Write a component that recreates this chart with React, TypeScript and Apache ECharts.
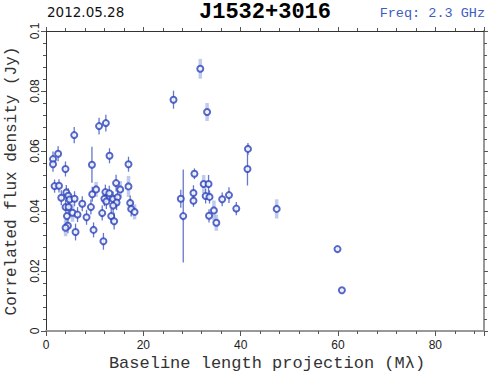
import React, { useEffect, useRef } from "react";
import * as echarts from "echarts";

// Baseline length projection (Mλ)
const baseline = [
  5.8, 1.44, 2.49, 1.44, 4.0, 1.76, 2.67, 9.44, 13.05, 16.95, 14.4, 16.95,
  3.14, 4.17, 4.58, 4.84, 5.87, 4.02, 4.64, 4.3, 5.46, 6.48, 4.5, 4.02, 6.07,
  7.45, 8.33, 9.23, 9.5, 10.3, 9.77, 11.8, 11.55, 12.2, 13.0, 12.0, 12.4, 13.8,
  14.7, 15.25, 14.5, 13.8, 13.4, 14.0, 17.3, 17.5, 18.2, 10.9, 12.3,
  26.2, 31.7, 33.1, 41.5, 41.4, 30.5, 32.4, 33.4, 27.7, 30.3, 30.3, 32.8, 33.6,
  36.2, 37.6, 28.2, 34.5, 33.5, 35.0, 39.1, 47.4, 59.9, 60.8,
];
// Correlated flux density (Jy)
const flux = [
  0.0653, 0.0573, 0.0591, 0.0556, 0.054, 0.0483, 0.0484, 0.0554, 0.0584, 0.0556, 0.0493, 0.0482,
  0.0444, 0.0462, 0.0451, 0.0438, 0.0441, 0.0413, 0.0413, 0.0383, 0.0394, 0.0388, 0.0351, 0.0344, 0.033,
  0.0424, 0.0379, 0.0413, 0.0456, 0.0472, 0.0337, 0.0299, 0.0393, 0.0463, 0.0459, 0.0441, 0.0432, 0.044,
  0.0446, 0.0472, 0.0428, 0.0418, 0.0383, 0.0366, 0.0427, 0.0407, 0.0397, 0.0683, 0.0693,
  0.0771, 0.0874, 0.073, 0.0607, 0.054, 0.0524, 0.049, 0.049, 0.0441, 0.046, 0.0434, 0.045, 0.0447,
  0.0439, 0.0453, 0.0383, 0.0402, 0.0384, 0.0361, 0.0408, 0.0407, 0.0273, 0.0136,
];
// 1-sigma uncertainty (Jy)
const fluxErr = [
  0.0027, 0.0025, 0.0025, 0.0025, 0.0025, 0.0022, 0.0022, 0.006, 0.0025, 0.0025, 0.0028, 0.0035,
  0.0025, 0.0025, 0.0025, 0.0025, 0.0025, 0.0025, 0.0025, 0.0028, 0.003, 0.0025, 0.0025, 0.0028, 0.0028,
  0.0025, 0.0025, 0.0025, 0.0025, 0.0025, 0.0025, 0.0028, 0.0025, 0.0025, 0.0025, 0.0025, 0.0025, 0.0025,
  0.0025, 0.0028, 0.0025, 0.0025, 0.0025, 0.0028, 0.0025, 0.0025, 0.0025, 0.0028, 0.0028,
  0.003, 0.0033, 0.003, 0.002, 0.0055, 0.0018, 0.003, 0.003, 0.003, 0.0026, 0.002, 0.0025, 0.0022,
  0.0023, 0.0026, 0.0155, 0.0033, 0.0022, 0.0027, 0.0022, 0.0032, 0.0005, 0.0005,
];
// 1 = pale wide error bar, 0 = thin dark error bar
const errPale = [
  0, 0, 0, 0, 0, 0, 0, 0, 0, 0, 0, 1,
  0, 0, 0, 0, 0, 0, 0, 1, 1, 0, 0, 1, 0,
  0, 0, 0, 0, 1, 0, 0, 0, 0, 0, 0, 0, 0,
  0, 1, 0, 0, 0, 0, 0, 0, 1, 0, 0,
  0, 1, 1, 0, 0, 0, 1, 0, 0, 0, 0, 0, 0,
  0, 0, 0, 1, 0, 1, 0, 1, 0, 0,
];

const xTicks = [0, 20, 40, 60, 80];
const yTicks = [0, 0.02, 0.04, 0.06, 0.08, 0.1];

const MONO = "'Liberation Mono', 'DejaVu Sans Mono', monospace";
const SANS = "'Liberation Sans', Arial, sans-serif";
const DSANS = "'DejaVu Sans', sans-serif";

export default function App() {
  const ref = useRef<HTMLDivElement>(null);
  useEffect(() => {
    if (!ref.current) return;
    const chart = echarts.init(ref.current, null, { renderer: "svg" });
    const pts = baseline.map((x, i) => [x, flux[i], fluxErr[i], errPale[i]]);
    const axisLabelY = {
      rotate: 90,
      fontFamily: SANS,
      fontSize: 12,
      color: "#222",
      margin: 5,
      formatter: (v: number) => (yTicks.some((t) => Math.abs(t - v) < 1e-9) ? String(+v.toFixed(2)) : ""),
    };
    chart.setOption({
      animation: false,
      backgroundColor: "#fff",
      grid: { left: 46, right: 8, top: 31, bottom: 44 },
      xAxis: [
        {
          type: "value",
          min: 0,
          max: 90,
          interval: 20,
          position: "bottom",
          axisLine: { show: true, onZero: false, lineStyle: { color: "#999", width: 2 } },
          axisTick: { show: true, inside: false, length: 5, lineStyle: { color: "#555" } },
          minorTick: { show: true, splitNumber: 5, length: 3, lineStyle: { color: "#555" } },
          splitLine: { show: false },
          axisLabel: {
            fontFamily: SANS,
            fontSize: 12,
            color: "#222",
            margin: 8,
            formatter: (v: number) => (xTicks.includes(v) ? String(v) : ""),
          },
        },
        {
          type: "value",
          min: 0,
          max: 90,
          interval: 20,
          position: "top",
          axisLine: { show: true, onZero: false, lineStyle: { color: "#333", width: 1 } },
          axisTick: { show: true, inside: false, length: 4, lineStyle: { color: "#555" } },
          minorTick: { show: true, splitNumber: 5, length: 3, lineStyle: { color: "#555" } },
          splitLine: { show: false },
          axisLabel: { show: false },
        },
      ],
      yAxis: [
        {
          type: "value",
          min: 0,
          max: 0.1,
          interval: 0.02,
          position: "left",
          axisLine: { show: true, onZero: false, lineStyle: { color: "#333", width: 1 } },
          axisTick: { show: true, inside: false, length: 5, lineStyle: { color: "#555" } },
          minorTick: { show: true, splitNumber: 5, length: 3, lineStyle: { color: "#555" } },
          splitLine: { show: false },
          axisLabel: axisLabelY,
        },
        {
          type: "value",
          min: 0,
          max: 0.1,
          interval: 0.02,
          position: "right",
          axisLine: { show: true, onZero: false, lineStyle: { color: "#999", width: 2 } },
          axisTick: { show: true, inside: false, length: 4, lineStyle: { color: "#555" } },
          minorTick: { show: true, splitNumber: 5, length: 3, lineStyle: { color: "#555" } },
          splitLine: { show: false },
          axisLabel: { show: false },
        },
      ],
      graphic: [
        {
          type: "text",
          x: 47,
          y: 12,
          style: { text: "2012.05.28", font: `13.5px ${DSANS}`, fill: "#111", textVerticalAlign: "middle" },
        },
        {
          type: "text",
          x: 265,
          y: 12,
          style: {
            text: "J1532+3016",
            font: `bold 22px ${MONO}`,
            fill: "#000",
            textAlign: "center",
            textVerticalAlign: "middle",
          },
        },
        {
          type: "text",
          x: 485,
          y: 13,
          style: {
            text: "Freq: 2.3 GHz",
            font: `13.5px ${MONO}`,
            fill: "#3d5cc4",
            textAlign: "right",
            textVerticalAlign: "middle",
          },
        },
        {
          type: "text",
          x: 12,
          y: 181,
          rotation: Math.PI / 2,
          style: {
            text: "Correlated flux density (Jy)",
            font: `16px ${MONO}`,
            fill: "#333",
            textAlign: "center",
            textVerticalAlign: "middle",
          },
        },
        {
          type: "text",
          x: 267,
          y: 363,
          style: {
            text: "Baseline length projection (M\u03bb)",
            font: `17px ${MONO}`,
            fill: "#333",
            textAlign: "center",
            textVerticalAlign: "middle",
          },
        },
      ],
      series: [
        {
          type: "custom",
          xAxisIndex: 0,
          yAxisIndex: 0,
          z: 1,
          data: pts,
          renderItem: (params: any, api: any) => {
            const x = api.value(0);
            const y = api.value(1);
            const e = api.value(2);
            const pale = api.value(3) === 1;
            const p1 = api.coord([x, y - e]);
            const p2 = api.coord([x, y + e]);
            return {
              type: "line",
              shape: { x1: p1[0], y1: p1[1], x2: p2[0], y2: p2[1] },
              style: pale
                ? { stroke: "rgba(150,168,222,0.6)", lineWidth: 3.5 }
                : { stroke: "#6677c8", lineWidth: 1.3 },
            };
          },
        },
        {
          type: "scatter",
          xAxisIndex: 0,
          yAxisIndex: 0,
          z: 3,
          symbol: "circle",
          symbolSize: 6,
          itemStyle: { color: "#fff", borderColor: "#2a42bc", borderWidth: 2 },
          data: pts.map((p) => [p[0], p[1]]),
        },
      ],
    });
    return () => chart.dispose();
  }, []);
  return (
    <div
      ref={ref}
      style={{ position: "absolute", left: 0, top: 0, width: 492, height: 375 }}
    />
  );
}
